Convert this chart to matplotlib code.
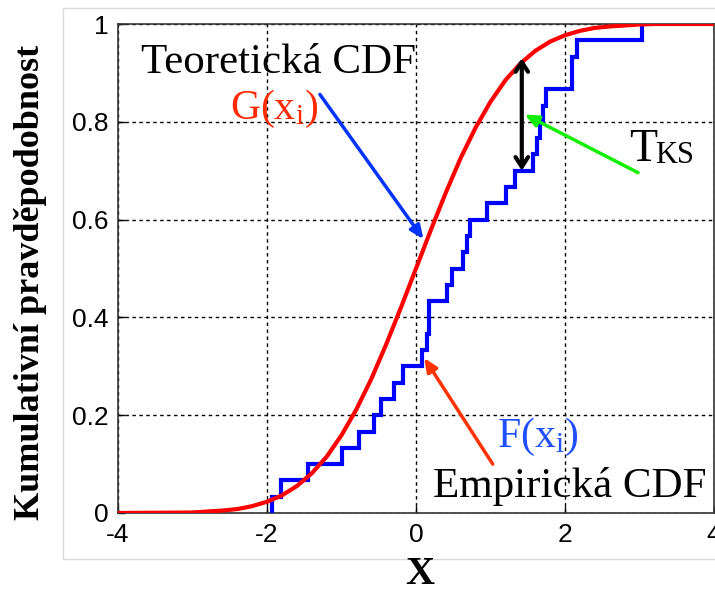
import matplotlib
matplotlib.use("Agg")
import matplotlib.pyplot as plt
import numpy as np
from matplotlib.patches import Rectangle

plt.rcParams['mathtext.fontset'] = 'custom'
plt.rcParams['mathtext.rm'] = 'Liberation Serif'
plt.rcParams['mathtext.it'] = 'Liberation Serif:italic'
plt.rcParams['axes.unicode_minus'] = False

# Sorted sample values of the empirical distribution (n = 30)
samples = [-1.93, -1.81, -1.45, -0.99, -0.77, -0.56, -0.47, -0.30, -0.17, 0.08,
           0.15, 0.18, 0.18, 0.42, 0.48, 0.63, 0.68, 0.72, 0.95, 1.21,
           1.33, 1.57, 1.62, 1.66, 1.70, 1.75, 2.09, 2.09, 2.16, 3.03]

# Theoretical CDF curve (x, G(x))
theo_x = [-4.0, -3.0, -2.8, -2.6, -2.4, -2.2, -2.0, -1.8, -1.6, -1.4, -1.2, -1.0,
          -0.8, -0.6, -0.4, -0.2, 0.0, 0.2, 0.4, 0.6, 0.8, 1.0, 1.2, 1.4,
          1.6, 1.8, 2.0, 2.2, 2.4, 2.6, 2.8, 3.0, 3.2, 4.0]
theo_y = [0.000, 0.001, 0.003, 0.005, 0.008, 0.014, 0.023, 0.036, 0.055, 0.081, 0.115, 0.159,
          0.212, 0.274, 0.345, 0.421, 0.500, 0.579, 0.655, 0.726, 0.788, 0.841, 0.885, 0.919,
          0.945, 0.964, 0.977, 0.986, 0.992, 0.995, 0.997, 0.999, 1.000, 1.000]

x_ticks = [-4, -2, 0, 2, 4]
y_ticks = [0, 0.2, 0.4, 0.6, 0.8, 1]
y_tick_labels = ['0', '0.2', '0.4', '0.6', '0.8', '1']

# Kolmogorov-Smirnov distance marker
ks_x = 1.42
ks_lo = 0.70
ks_hi = 0.93

fig = plt.figure(figsize=(7.15, 5.92), dpi=100)
fig.patch.set_facecolor('white')

# light frame around the plotting area
fig.patches.append(Rectangle((63 / 715, 1 - 559 / 592), 1.0, (559 - 8) / 592,
                             transform=fig.transFigure, fill=False,
                             edgecolor='#dadada', lw=1.0, zorder=0))

ax = fig.add_axes([118 / 715, 1 - 513 / 592, (714 - 118) / 715, (513 - 24) / 592])
ax.set_facecolor('white')

# empirical CDF
n = len(samples)
ecdf_x = [samples[0]] + samples
ecdf_y = [0.0] + list(np.arange(1, n + 1) / n)
ax.step(ecdf_x, ecdf_y, where='post', color='#0000ff', lw=3.0, zorder=3,
        solid_joinstyle='miter')

# theoretical CDF
ax.plot(theo_x, theo_y, color='#ff0000', lw=3.0, zorder=4)

ax.set_xlim(-4, 4)
ax.set_ylim(0, 1)
ax.set_xticks(x_ticks)
ax.set_yticks(y_ticks)
ax.set_yticklabels(y_tick_labels)
ax.grid(True, color='black', linestyle=(0, (2.5, 2.5)), lw=1.0)
ax.set_axisbelow(True)
for s in ax.spines.values():
    s.set_color('#333333')
    s.set_linewidth(1.2)
ax.tick_params(direction='in', length=5, width=1.0, colors='black',
               labelsize=19, pad=7)
for lab in ax.get_xticklabels() + ax.get_yticklabels():
    lab.set_family('Liberation Sans')

serif = 'Liberation Serif'

# annotations
ax.text(-3.685, 0.900, 'Teoretická CDF', family=serif, fontsize=31,
        color='black', va='baseline', ha='left', zorder=6)
ax.text(-2.50, 0.805, r'$\mathrm{G(x_i)}$', fontsize=30,
        color='#ff2a00', va='baseline', ha='left', zorder=6)
ax.text(1.083, 0.136, r'$\mathrm{F(x_i)}$', fontsize=30,
        color='#1f4fff', va='baseline', ha='left', zorder=6)
ax.text(0.228, 0.033, 'Empirická CDF', family=serif, fontsize=31,
        color='black', va='baseline', ha='left', zorder=6)
ax.text(2.86, 0.719, 'T', family=serif, fontsize=33,
        color='black', va='baseline', ha='left', zorder=6)
ax.text(3.208, 0.7165, 'KS', family=serif, fontsize=22,
        color='black', va='baseline', ha='left', zorder=6)

ax.annotate('', xy=(0.10, 0.56), xytext=(-1.29, 0.856),
            arrowprops=dict(arrowstyle='-|>,head_length=0.8,head_width=0.35',
                            color='#0033ff', lw=2.5, shrinkA=0, shrinkB=0), zorder=5)
ax.annotate('', xy=(0.11, 0.317), xytext=(1.03, 0.100),
            arrowprops=dict(arrowstyle='-|>,head_length=0.8,head_width=0.35',
                            color='#ff3300', lw=2.5, shrinkA=0, shrinkB=0), zorder=5)
ax.annotate('', xy=(1.46, 0.815), xytext=(2.98, 0.696),
            arrowprops=dict(arrowstyle='-|>,head_length=0.8,head_width=0.35',
                            color='#11ee00', lw=2.5, shrinkA=0, shrinkB=0), zorder=5)
ax.annotate('', xy=(ks_x, ks_hi), xytext=(ks_x, ks_lo),
            arrowprops=dict(arrowstyle='<->,head_length=0.7,head_width=0.45',
                            color='black', lw=3.0, shrinkA=0, shrinkB=0), zorder=5)

fig.text(31 / 715, 1 - 282 / 592, 'Kumulativní pravděpodobnost', family=serif,
         fontweight='bold', fontsize=26, rotation=90, ha='center', va='center')
fig.text(420 / 715, 1 - 575 / 592, 'X', family=serif, fontweight='bold',
         fontsize=29, ha='center', va='center')

fig.savefig('out.png', dpi=100, facecolor='white')
